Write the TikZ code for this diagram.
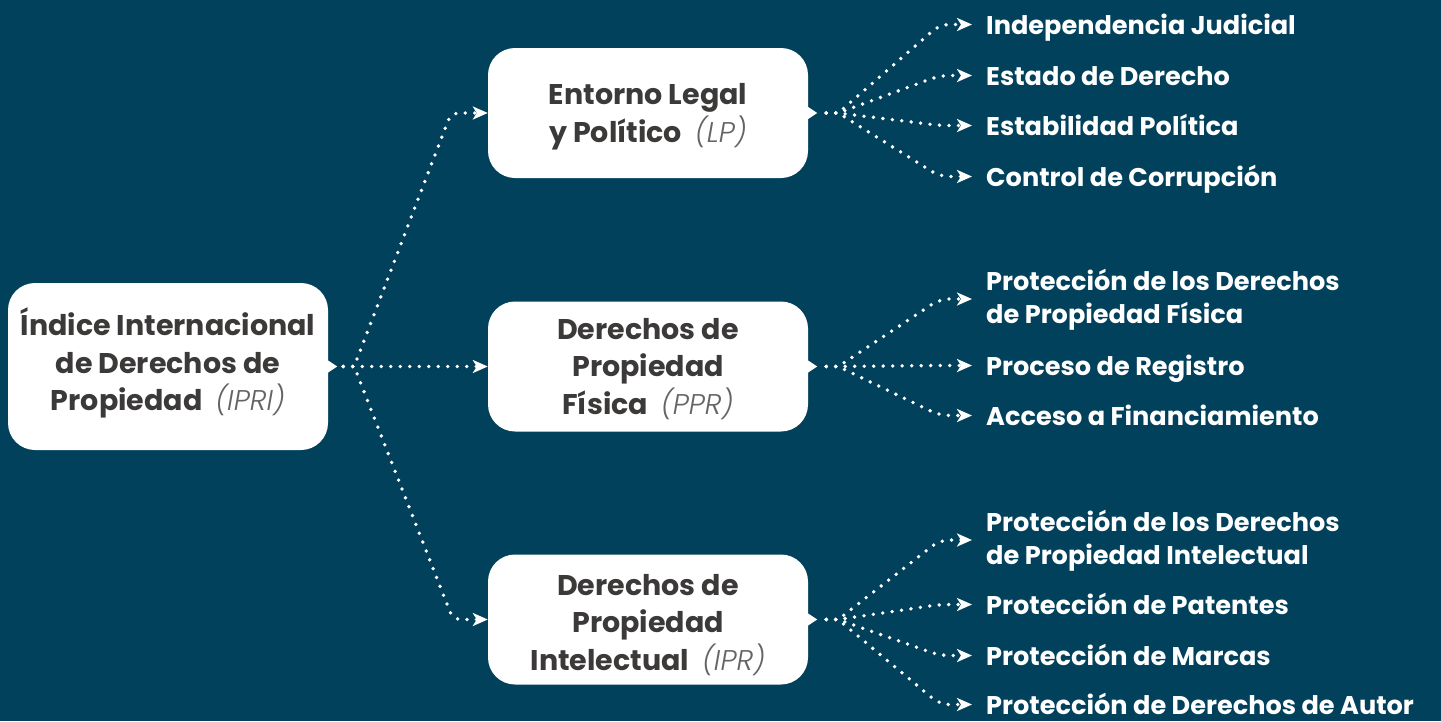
\documentclass[tikz,border=0pt]{standalone}
\usepackage{fontspec}
\setmainfont{Poppins}
\newfontfamily\lightit{Poppins Light Italic}
\usetikzlibrary{arrows.meta}
\definecolor{bg}{RGB}{1,65,91}
\definecolor{boxtext}{RGB}{60,57,57}
\definecolor{abbr}{RGB}{100,100,100}
\newcommand\abbrv[1]{\hspace{0.45em}{\lightit\mdseries\upshape\color{abbr}(#1)}}
\begin{document}
\begin{tikzpicture}[x=1pt,y=-1pt,
  box/.style={fill=white, rounded corners=27pt, minimum width=320pt, align=center,
    text=boxtext, inner sep=0pt, text depth=0pt, font=\bfseries\fontsize{28.5pt}{37.5pt}\selectfont},
  leaf/.style={anchor=base west, text=white, align=left, inner sep=0pt,
    font=\bfseries\fontsize{25.6pt}{32.6pt}\selectfont},
  link/.style={draw=white, line width=3.8pt, line cap=round, dash pattern=on 0pt off 9.5pt,
    -{Stealth[length=15pt,width=13pt,inset=4pt]}},
  tip/.style={fill=white}]
\path[fill=bg] (0,0) rectangle (1441,721);

% boxes
\node[box, minimum height=167pt, text height=88pt] (ipri) at (168,366.5) {Índice Internacional\\de Derechos de\\Propiedad\abbrv{IPRI}};
\node[box, minimum height=130pt, text height=58pt] (lp) at (648,113) {Entorno Legal\\y Político\abbrv{LP}};
\node[box, minimum height=130pt, text height=95pt] (ppr) at (648,366.5) {Derechos de\\Propiedad\\Física\abbrv{PPR}};
\node[box, minimum height=130pt, text height=101pt] (ipr) at (648,619.5) {Derechos de\\Propiedad\\Intelectual\abbrv{IPR}};

% pointers
\foreach \b in {ipri,lp,ppr,ipr}{
  \fill[tip] ([yshift=6pt]\b.east) -- ([xshift=9pt]\b.east) -- ([yshift=-6pt]\b.east) -- cycle;
}

% leaves
\node[leaf] (l1) at (986,34) {Independencia Judicial};
\node[leaf] (l2) at (986,85) {Estado de Derecho};
\node[leaf] (l3) at (986,135) {Estabilidad Política};
\node[leaf] (l4) at (986,186) {Control de Corrupción};
\node[leaf] (p1) at (986,323) {Protección de los Derechos\\de Propiedad Física};
\node[leaf] (p2) at (986,375) {Proceso de Registro};
\node[leaf] (p3) at (986,425) {Acceso a Financiamiento};
\node[leaf] (i1) at (986,564) {Protección de los Derechos\\de Propiedad Intelectual};
\node[leaf] (i2) at (986,614) {Protección de Patentes};
\node[leaf] (i3) at (986,665) {Protección de Marcas};
\node[leaf] (i4) at (986,714) {Protección de Derechos de Autor};

\foreach \n in {l1,l2,l3,l4,p2,p3,i2,i3,i4}{
  \coordinate (\n in) at ([shift={(-14,-9.5)}]\n.base west);
}
\coordinate (p1in) at ([shift={(-14,-24)}]p1.base west);
\coordinate (i1in) at ([shift={(-14,-24)}]i1.base west);

% start points
\coordinate (s0) at ([xshift=15pt]ipri.east);
\coordinate (j0) at ([xshift=26pt]ipri.east);
\foreach \b in {lp,ppr,ipr}{
  \coordinate (s\b) at ([xshift=18pt]\b.east);
  \coordinate (j\b) at ([xshift=30pt]\b.east);
}

% main links
\draw[link] (s0) -- (j0) [rounded corners=8pt] -- (451,113) -- (lp.west);
\draw[link] (s0) -- (ppr.west);
\draw[link] (s0) -- (j0) [rounded corners=8pt] -- (453,619.5) -- (ipr.west);

% leaf links
\foreach \b/\n in {lp/l1,lp/l2,lp/l3,lp/l4,ppr/p1,ppr/p2,ppr/p3,ipr/i1,ipr/i2,ipr/i3,ipr/i4}{
  \draw[link] (s\b) -- (j\b) [rounded corners=9pt] -- ([xshift=-32pt]\n in) -- (\n in);
}
\end{tikzpicture}
\end{document}
